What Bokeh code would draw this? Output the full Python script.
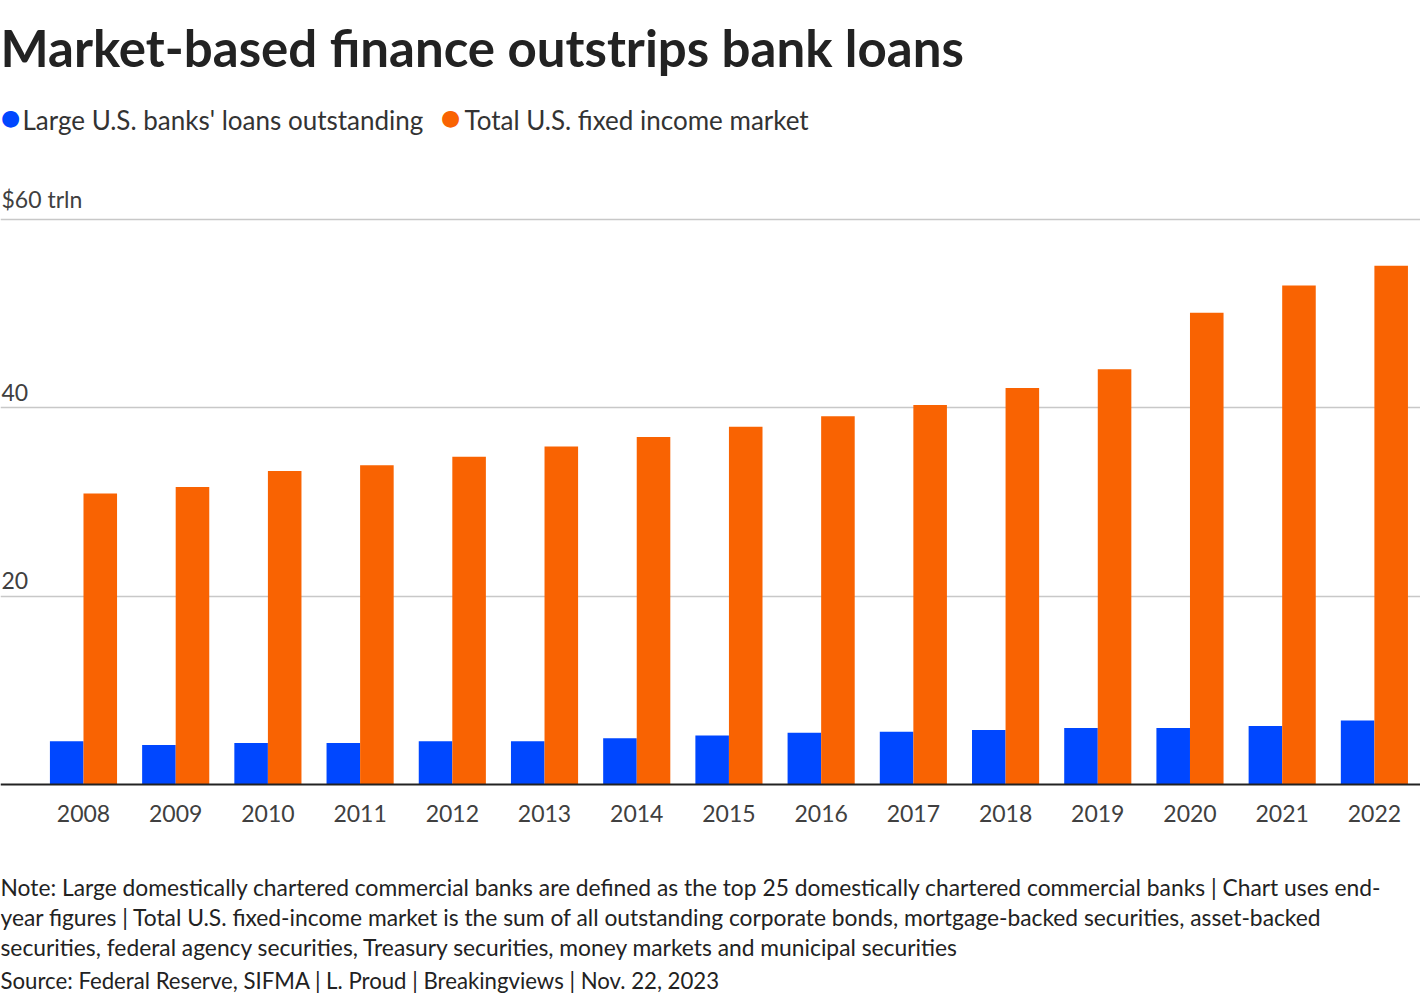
from bokeh.plotting import figure
from bokeh.models import Range1d, FixedTicker, Label, ColumnDataSource, Span
from bokeh.core.properties import value
from bokeh.embed import file_html
from bokeh.resources import INLINE

years = ["2008", "2009", "2010", "2011", "2012", "2013", "2014", "2015",
         "2016", "2017", "2018", "2019", "2020", "2021", "2022"]
bank_loans = [4.6, 4.2, 4.4, 4.4, 4.6, 4.6, 4.9, 5.2, 5.5, 5.6, 5.8, 6.0, 6.0, 6.2, 6.8]
fixed_income = [30.9, 31.6, 33.3, 33.9, 34.8, 35.9, 36.9, 38.0, 39.1, 40.3, 42.1, 44.1, 50.1, 53.0, 55.1]
y_ticks = [20, 40, 60]
y_tick_labels = ["20", "40", "$60 trln"]
series_names = ["Large U.S. banks' loans outstanding", "Total U.S. fixed income market"]
colors = ["#0047FF", "#F96302"]

title_text = "Market-based finance outstrips bank loans"
note_lines = [
    "Note: Large domestically chartered commercial banks are defined as the top 25 domestically chartered commercial banks | Chart uses end-",
    "year figures | Total U.S. fixed-income market is the sum of all outstanding corporate bonds, mortgage-backed securities, asset-backed",
    "securities, federal agency securities, Treasury securities, money markets and municipal securities",
]
source_text = "Source: Federal Reserve, SIFMA | L. Proud | Breakingviews | Nov. 22, 2023"

W, H = 1420, 1000
BASE_PX, TOP60_PX = 784, 219          # pixel rows of 0 and 60
PPU = (BASE_PX - TOP60_PX) / 60.0     # pixels per unit
X0, X1 = -0.9, 14.5
Y0 = -(H - BASE_PX) / PPU
Y1 = BASE_PX / PPU
FONT = "Lato"

p = figure(width=W, height=H, output_backend="svg", toolbar_location=None,
           x_range=Range1d(X0, X1), y_range=Range1d(Y0, Y1),
           min_border_left=0, min_border_right=0,
           min_border_top=0, min_border_bottom=0, title=None)
p.outline_line_color = None
p.background_fill_color = "white"
p.border_fill_color = "white"
p.xaxis.visible = False
p.yaxis.visible = False


def xd(px):
    return X0 + px / W * (X1 - X0)


def yd(py):
    return (BASE_PX - py) / PPU


idx = list(range(len(years)))
bw = 0.364
src = ColumnDataSource(dict(
    xb=[i - bw / 2 for i in idx],
    xo=[i + bw / 2 for i in idx],
    bank=bank_loans, fixed=fixed_income))
p.vbar(x="xb", top="bank", bottom=0, width=bw, source=src,
       fill_color=colors[0], line_color=None)
p.vbar(x="xo", top="fixed", bottom=0, width=bw, source=src,
       fill_color=colors[1], line_color=None)

# grid
p.xgrid.visible = False
p.ygrid.ticker = FixedTicker(ticks=y_ticks)
p.ygrid.grid_line_color = "#c8c8c8"
p.ygrid.grid_line_width = 1.5

# baseline (x axis line)
p.add_layout(Span(location=0, dimension="width", line_color="#222222", line_width=2))

# x tick labels
p.text(x=idx, y=[yd(813)] * len(idx), text=years, text_font=value(FONT),
       text_font_size="23px", text_color="#404040",
       text_baseline="middle", text_align="center")

# y tick labels above gridlines
for t, lab in zip(y_ticks, y_tick_labels):
    p.add_layout(Label(x=xd(1), y=t + 7 / PPU, text=lab, text_font=FONT,
                       text_font_size="23px", text_color="#404040",
                       text_baseline="bottom", text_align="left"))

# title
p.add_layout(Label(x=xd(0), y=yd(47), text=title_text, text_font=FONT,
                   text_font_style="bold", text_font_size="51px",
                   text_color="#222222", text_baseline="middle", text_align="left"))

# legend
leg_circle_px = [10, 450]
leg_text_px = [22, 464]
for name, col, cx, tx in zip(series_names, colors, leg_circle_px, leg_text_px):
    p.add_layout(Label(x=xd(cx), y=yd(117), text="\u25cf", text_font="DejaVu Sans",
                       text_font_size="22px", text_color=col,
                       text_baseline="middle", text_align="center"))
    p.add_layout(Label(x=xd(tx), y=yd(119), text=name, text_font=FONT,
                       text_font_size="26px", text_color="#333333",
                       text_baseline="middle", text_align="left"))

# notes
note_py = [886, 916, 946]
for line, py in zip(note_lines, note_py):
    p.add_layout(Label(x=xd(0), y=yd(py), text=line, text_font=FONT,
                       text_font_size="22.8px", text_color="#222222",
                       text_baseline="middle", text_align="left"))
p.add_layout(Label(x=xd(0), y=yd(980), text=source_text, text_font=FONT,
                   text_font_size="22.2px", text_color="#222222",
                   text_baseline="middle", text_align="left"))

open("out.html", "w").write(file_html(p, INLINE))
